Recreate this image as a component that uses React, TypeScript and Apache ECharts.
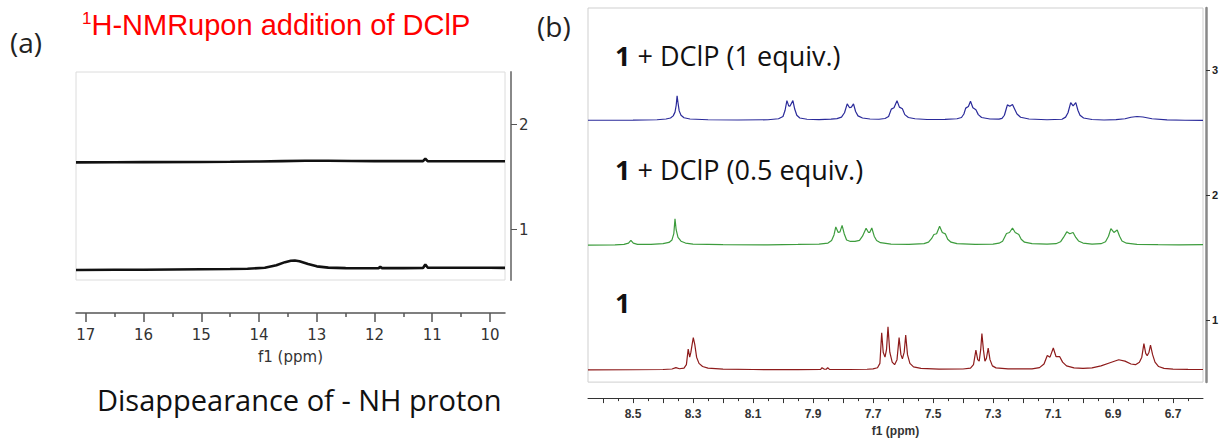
import React, { useEffect, useRef } from "react";
import * as echarts from "echarts";

// ---------- Panel (a) data : [ppm, intensity] ----------
const aTopTrace: number[][] = [
  [17.17, 1.640], [16.5, 1.641], [16.0, 1.642], [15.0, 1.643], [14.5, 1.645], [14.0, 1.648],
  [13.6, 1.652], [13.2, 1.655], [12.8, 1.655], [12.4, 1.653], [12.0, 1.652], [11.6, 1.652],
  [11.16, 1.652], [11.12, 1.675], [11.08, 1.652], [10.6, 1.650], [10.2, 1.650], [9.74, 1.651],
];
const aBottomTrace: number[][] = [
  [17.17, 0.615], [16.5, 0.617], [16.0, 0.618], [15.5, 0.620], [15.0, 0.622], [14.5, 0.624],
  [14.2, 0.627], [13.9, 0.636], [13.7, 0.660], [13.55, 0.690], [13.45, 0.703], [13.38, 0.706],
  [13.3, 0.698], [13.15, 0.672], [13.0, 0.650], [12.8, 0.638], [12.5, 0.633], [12.0, 0.632],
  [11.93, 0.633], [11.9, 0.645], [11.87, 0.633], [11.5, 0.633], [11.16, 0.634], [11.12, 0.668],
  [11.08, 0.638], [10.8, 0.636], [10.4, 0.637], [10.0, 0.636], [9.74, 0.635],
];
const aMajorTicks = [10, 11, 12, 13, 14, 15, 16, 17];
const aMinorTicks = [10.5, 11.5, 12.5, 13.5, 14.5, 15.5, 16.5];
const aYTicks = [1, 2];

// ---------- Panel (b) data : [ppm, intensity] ----------
const bBlueTrace: number[][] = [
  [8.65, 2.600], [8.50, 2.601], [8.42, 2.604], [8.39, 2.610], [8.375, 2.618], [8.366, 2.635],
  [8.360, 2.665], [8.356, 2.720], [8.353, 2.796], [8.350, 2.740], [8.346, 2.675], [8.340, 2.640],
  [8.330, 2.620], [8.31, 2.610], [8.25, 2.604], [8.15, 2.602], [8.05, 2.604], [8.015, 2.612],
  [8.000, 2.630], [7.993, 2.680], [7.987, 2.757], [7.981, 2.715], [7.977, 2.712], [7.967, 2.757],
  [7.961, 2.690], [7.954, 2.640], [7.944, 2.618], [7.92, 2.608], [7.88, 2.605], [7.84, 2.609],
  [7.82, 2.613], [7.805, 2.625], [7.795, 2.660], [7.786, 2.731], [7.778, 2.700], [7.772, 2.705],
  [7.765, 2.731], [7.758, 2.670], [7.750, 2.635], [7.735, 2.618], [7.71, 2.610], [7.68, 2.608],
  [7.66, 2.614], [7.648, 2.630], [7.639, 2.689], [7.630, 2.700], [7.620, 2.757], [7.612, 2.705],
  [7.602, 2.692], [7.594, 2.645], [7.582, 2.622], [7.56, 2.612], [7.52, 2.606], [7.46, 2.607],
  [7.42, 2.612], [7.405, 2.622], [7.397, 2.650], [7.391, 2.697], [7.382, 2.710], [7.375, 2.752],
  [7.367, 2.700], [7.357, 2.684], [7.349, 2.645], [7.338, 2.622], [7.31, 2.610], [7.28, 2.609],
  [7.27, 2.615], [7.262, 2.640], [7.256, 2.690], [7.252, 2.723], [7.244, 2.712], [7.235, 2.726],
  [7.228, 2.690], [7.220, 2.650], [7.208, 2.624], [7.18, 2.610], [7.12, 2.604], [7.07, 2.608],
  [7.058, 2.625], [7.050, 2.660], [7.041, 2.741], [7.033, 2.715], [7.024, 2.741], [7.017, 2.680],
  [7.010, 2.640], [6.998, 2.618], [6.97, 2.606], [6.93, 2.602], [6.89, 2.605], [6.86, 2.612],
  [6.84, 2.624], [6.82, 2.630], [6.80, 2.626], [6.77, 2.612], [6.72, 2.603], [6.66, 2.600],
  [6.60, 2.599],
];
const bGreenTrace: number[][] = [
  [8.65, 1.598], [8.56, 1.600], [8.53, 1.604], [8.515, 1.615], [8.507, 1.637], [8.499, 1.614],
  [8.485, 1.605], [8.44, 1.604], [8.40, 1.610], [8.38, 1.620], [8.370, 1.640], [8.364, 1.690],
  [8.360, 1.809], [8.356, 1.720], [8.350, 1.660], [8.340, 1.630], [8.325, 1.615], [8.30, 1.607],
  [8.20, 1.602], [8.05, 1.601], [7.95, 1.604], [7.88, 1.607], [7.85, 1.615], [7.838, 1.635],
  [7.830, 1.680], [7.824, 1.744], [7.816, 1.700], [7.810, 1.705], [7.803, 1.757], [7.796, 1.690],
  [7.788, 1.640], [7.775, 1.628], [7.76, 1.628], [7.745, 1.636], [7.735, 1.670], [7.723, 1.734],
  [7.715, 1.700], [7.711, 1.700], [7.704, 1.736], [7.696, 1.670], [7.688, 1.636], [7.675, 1.618],
  [7.64, 1.607], [7.58, 1.604], [7.53, 1.610], [7.515, 1.622], [7.505, 1.650], [7.497, 1.684],
  [7.488, 1.690], [7.478, 1.749], [7.469, 1.700], [7.459, 1.689], [7.451, 1.645], [7.440, 1.622],
  [7.42, 1.610], [7.36, 1.604], [7.30, 1.607], [7.28, 1.614], [7.268, 1.630], [7.260, 1.668],
  [7.255, 1.692], [7.245, 1.700], [7.235, 1.736], [7.226, 1.700], [7.214, 1.684], [7.206, 1.645],
  [7.195, 1.622], [7.17, 1.610], [7.12, 1.606], [7.09, 1.610], [7.075, 1.625], [7.065, 1.660],
  [7.054, 1.705], [7.044, 1.690], [7.033, 1.700], [7.024, 1.660], [7.015, 1.632], [7.000, 1.615],
  [6.97, 1.607], [6.94, 1.610], [6.925, 1.625], [6.915, 1.670], [6.907, 1.731], [6.897, 1.700],
  [6.886, 1.720], [6.878, 1.670], [6.870, 1.632], [6.855, 1.614], [6.82, 1.605], [6.75, 1.602],
  [6.68, 1.601], [6.60, 1.603],
];
const bRedTrace: number[][] = [
  [8.65, 0.598], [8.50, 0.599], [8.40, 0.601], [8.37, 0.605], [8.357, 0.616], [8.345, 0.607],
  [8.330, 0.612], [8.322, 0.640], [8.316, 0.765], [8.311, 0.700], [8.307, 0.740], [8.303, 0.800],
  [8.299, 0.857], [8.294, 0.800], [8.288, 0.700], [8.280, 0.650], [8.268, 0.625], [8.25, 0.612],
  [8.20, 0.604], [8.10, 0.601], [7.95, 0.600], [7.875, 0.601], [7.870, 0.616], [7.862, 0.603],
  [7.856, 0.603], [7.851, 0.615], [7.845, 0.602], [7.78, 0.601], [7.72, 0.603], [7.70, 0.606],
  [7.685, 0.615], [7.677, 0.650], [7.671, 0.896], [7.666, 0.740], [7.660, 0.700], [7.655, 0.760],
  [7.650, 0.943], [7.644, 0.740], [7.636, 0.660], [7.628, 0.640], [7.620, 0.680], [7.613, 0.857],
  [7.607, 0.720], [7.602, 0.686], [7.596, 0.740], [7.591, 0.877], [7.585, 0.720], [7.577, 0.650],
  [7.565, 0.622], [7.54, 0.610], [7.48, 0.604], [7.40, 0.605], [7.375, 0.612], [7.365, 0.640],
  [7.357, 0.757], [7.351, 0.680], [7.346, 0.668], [7.341, 0.760], [7.337, 0.890], [7.332, 0.760],
  [7.327, 0.668], [7.322, 0.690], [7.316, 0.773], [7.310, 0.680], [7.302, 0.630], [7.290, 0.614],
  [7.25, 0.606], [7.17, 0.606], [7.145, 0.616], [7.130, 0.645], [7.119, 0.713], [7.110, 0.700],
  [7.099, 0.773], [7.090, 0.705], [7.078, 0.705], [7.068, 0.660], [7.055, 0.630], [7.03, 0.614],
  [7.00, 0.610], [6.97, 0.614], [6.94, 0.630], [6.91, 0.655], [6.881, 0.679], [6.86, 0.668],
  [6.84, 0.645], [6.825, 0.640], [6.812, 0.660], [6.804, 0.700], [6.797, 0.809], [6.791, 0.730],
  [6.786, 0.712], [6.780, 0.740], [6.775, 0.796], [6.768, 0.720], [6.760, 0.660], [6.748, 0.625],
  [6.73, 0.610], [6.70, 0.604], [6.65, 0.602], [6.60, 0.601],
];
const bMajorTicks = [6.7, 6.8, 6.9, 7.0, 7.1, 7.2, 7.3, 7.4, 7.5, 7.6, 7.7, 7.8, 7.9, 8.0, 8.1, 8.2, 8.3, 8.4, 8.5, 8.6];
const bMinorTicks = [6.65, 6.75, 6.85, 6.95, 7.05, 7.15, 7.25, 7.35, 7.45, 7.55, 7.65, 7.75, 7.85, 7.95, 8.05, 8.15, 8.25, 8.35, 8.45, 8.55];
const bLabelTicks = [6.7, 6.9, 7.1, 7.3, 7.5, 7.7, 7.9, 8.1, 8.3, 8.5];
const bYTicks = [1, 2, 3];

const seriesLabels = ["1 + DClP (1 equiv.)", "1 + DClP (0.5 equiv.)", "1"];

export default function App() {
  const ref = useRef<HTMLDivElement>(null);
  useEffect(() => {
    if (!ref.current) return;
    const chart = echarts.init(ref.current, undefined, { renderer: "svg" });
    const aAxisFont = { fontFamily: "DejaVu Sans", fontSize: 15, color: "#333" };
    const bAxisFont = { fontFamily: "Liberation Sans", fontSize: 12, fontWeight: "bold" as const, color: "#333" };
    const labelRich = {
      b: { fontFamily: "Open Sans", fontWeight: "bold", fontSize: 27, fill: "#111", color: "#111" },
      n: { fontFamily: "Open Sans", fontSize: 27, fill: "#111", color: "#111" },
    };
    chart.setOption({
      animation: false,
      backgroundColor: "#fff",
      grid: [
        { left: 76, top: 72, width: 429, height: 208, show: true, borderColor: "#dcdcdc", borderWidth: 1, backgroundColor: "transparent" },
        { left: 588, top: 8, width: 615, height: 382, show: true, borderColor: "#cfcfcf", borderWidth: 1, backgroundColor: "transparent" },
      ],
      xAxis: [
        {
          type: "value", gridIndex: 0, position: "bottom", inverse: true, min: 9.74, max: 17.17, offset: 33,
          axisLine: { show: true, onZero: false, lineStyle: { color: "#555", width: 1.5 } },
          axisTick: { show: true, length: 9, customValues: aMajorTicks, lineStyle: { color: "#555", width: 1.5 } },
          axisLabel: { show: true, customValues: aMajorTicks, margin: 14, ...aAxisFont },
          splitLine: { show: false },
          name: "f1 (ppm)", nameLocation: "middle", nameGap: 36, nameTextStyle: aAxisFont,
        },
        {
          type: "value", gridIndex: 0, position: "bottom", inverse: true, min: 9.74, max: 17.17, offset: 33,
          axisLine: { show: false, onZero: false },
          axisTick: { show: true, length: 4, customValues: aMinorTicks, lineStyle: { color: "#555", width: 1.5 } },
          axisLabel: { show: false },
          splitLine: { show: false },
        },
        {
          type: "value", gridIndex: 1, position: "bottom", inverse: true, min: 6.6, max: 8.65, offset: 16,
          axisLine: { show: true, onZero: false, lineStyle: { color: "#333", width: 1 } },
          axisTick: { show: true, length: 5, customValues: bMajorTicks, lineStyle: { color: "#333" } },
          axisLabel: { show: true, customValues: bLabelTicks, margin: 10, ...bAxisFont },
          splitLine: { show: false },
          name: "f1 (ppm)", nameLocation: "middle", nameGap: 22, nameTextStyle: bAxisFont,
        },
        {
          type: "value", gridIndex: 1, position: "bottom", inverse: true, min: 6.6, max: 8.65, offset: 16,
          axisLine: { show: false, onZero: false },
          axisTick: { show: true, length: 3, customValues: bMinorTicks, lineStyle: { color: "#333" } },
          axisLabel: { show: false },
          splitLine: { show: false },
        },
      ],
      yAxis: [
        {
          type: "value", gridIndex: 0, position: "right", min: 0.52, max: 2.5, offset: 6,
          axisLine: { show: true, lineStyle: { color: "#888", width: 2 } },
          axisTick: { show: true, length: 6, customValues: aYTicks, lineStyle: { color: "#555" } },
          axisLabel: { show: true, customValues: aYTicks, margin: 8, ...aAxisFont },
          splitLine: { show: false },
        },
        {
          type: "value", gridIndex: 1, position: "right", min: 0.5, max: 3.5, offset: 3,
          axisLine: { show: true, lineStyle: { color: "#888", width: 2.5 } },
          axisTick: { show: true, length: 4, customValues: bYTicks, lineStyle: { color: "#333" } },
          axisLabel: { show: true, customValues: bYTicks, margin: 6, fontFamily: "Liberation Sans", fontSize: 11, fontWeight: "bold", color: "#222" },
          splitLine: { show: false },
        },
      ],
      series: [
        { type: "line", xAxisIndex: 0, yAxisIndex: 0, data: aTopTrace, showSymbol: false, lineStyle: { color: "#111", width: 2.6 } },
        { type: "line", xAxisIndex: 0, yAxisIndex: 0, data: aBottomTrace, showSymbol: false, lineStyle: { color: "#111", width: 2.6 } },
        { type: "line", xAxisIndex: 2, yAxisIndex: 1, data: bBlueTrace, showSymbol: false, lineStyle: { color: "#2a2a9a", width: 1.2 } },
        { type: "line", xAxisIndex: 2, yAxisIndex: 1, data: bGreenTrace, showSymbol: false, lineStyle: { color: "#3d9c3d", width: 1.2 } },
        { type: "line", xAxisIndex: 2, yAxisIndex: 1, data: bRedTrace, showSymbol: false, lineStyle: { color: "#8e1b1b", width: 1.2 } },
      ],
      graphic: [
        { type: "text", left: 10, top: 28, style: { text: "(a)", font: "28px 'Open Sans'", fill: "#222" } },
        { type: "text", left: 537, top: 12, style: { text: "(b)", font: "28px 'Open Sans'", fill: "#222" } },
        {
          type: "text", left: 82, top: 10,
          style: {
            text: "{s|1}{m|H-NMRupon addition of DClP}",
            rich: {
              s: { fontFamily: "Liberation Sans", fontSize: 17, fill: "#ff0000", verticalAlign: "top" },
              m: { fontFamily: "Liberation Sans", fontSize: 29, fill: "#ff0000" },
            },
          },
        },
        { type: "text", left: 97, top: 385, style: { text: "Disappearance of - NH proton", font: "29px 'Open Sans'", fill: "#111" } },
        { type: "text", left: 615, top: 42, style: { text: "{b|1}{n|" + seriesLabels[0].slice(1) + "}", rich: labelRich } },
        { type: "text", left: 615, top: 156, style: { text: "{b|1}{n|" + seriesLabels[1].slice(1) + "}", rich: labelRich } },
        { type: "text", left: 615, top: 289, style: { text: "{b|" + seriesLabels[2] + "}", rich: labelRich } },
      ],
    });
    return () => chart.dispose();
  }, []);
  return <div ref={ref} style={{ position: "fixed", left: 0, top: 0, width: 1222, height: 442 }} />;
}
